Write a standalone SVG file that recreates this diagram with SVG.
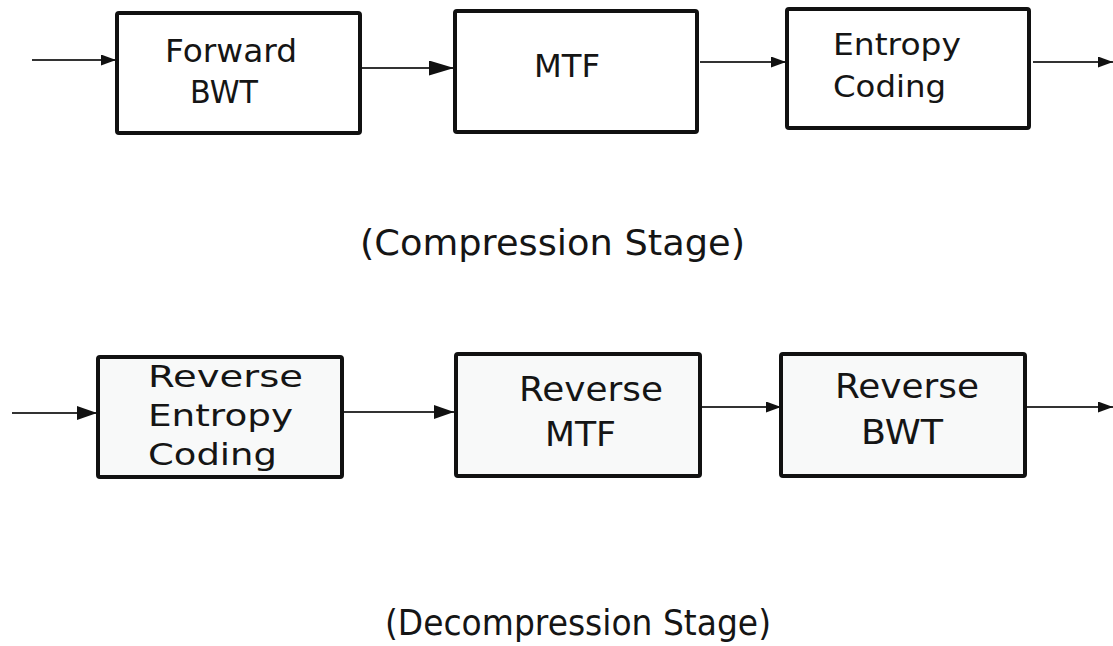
<svg xmlns="http://www.w3.org/2000/svg" width="1113" height="646" viewBox="0 0 1113 646">
<defs>
<style>
.box{stroke:#111;stroke-width:4;}
.top{fill:#ffffff;}
.bot{fill:#f8f9f9;}
.lbl{font-family:"DejaVu Sans",Verdana,sans-serif;fill:#151515;}
.con{stroke:#333;stroke-width:2;fill:none;}
</style>
<marker id="sm" markerUnits="userSpaceOnUse" markerWidth="15" markerHeight="11" refX="15" refY="5.5" orient="auto"><path d="M0,0 L15,5.5 L0,11 Z" fill="#111"/></marker>
<marker id="lg" markerUnits="userSpaceOnUse" markerWidth="25" markerHeight="15" refX="25" refY="7.5" orient="auto"><path d="M0,0 L25,7.5 L0,15 Z" fill="#111"/></marker>
<marker id="md" markerUnits="userSpaceOnUse" markerWidth="20" markerHeight="14" refX="20" refY="7" orient="auto"><path d="M0,0 L20,7 L0,14 Z" fill="#111"/></marker>
</defs>
<rect width="1113" height="646" fill="#ffffff"/>
<g id="connectors">
<path class="con" d="M32,60 H116" marker-end="url(#sm)"/>
<path class="con" d="M361,68 H454" marker-end="url(#lg)"/>
<path class="con" d="M700,62 H786" marker-end="url(#sm)"/>
<path class="con" d="M1033,62 H1113" marker-end="url(#sm)"/>
<path class="con" d="M12,413 H97" marker-end="url(#md)"/>
<path class="con" d="M343,412 H454" marker-end="url(#md)"/>
<path class="con" d="M702,407 H781" marker-end="url(#sm)"/>
<path class="con" d="M1027,407 H1113" marker-end="url(#sm)"/>
</g>
<g id="forward-bwt">
<rect class="box top" x="117" y="13" width="243" height="120" rx="2"/>
<text class="lbl" x="231" y="62" font-size="32" text-anchor="middle" textLength="132" lengthAdjust="spacingAndGlyphs">Forward</text>
<text class="lbl" x="224" y="103" font-size="32" text-anchor="middle" textLength="68" lengthAdjust="spacingAndGlyphs">BWT</text>
</g>
<g id="mtf">
<rect class="box top" x="455" y="11" width="242" height="121" rx="2"/>
<text class="lbl" x="567" y="77" font-size="32" text-anchor="middle" textLength="66" lengthAdjust="spacingAndGlyphs">MTF</text>
</g>
<g id="entropy-coding">
<rect class="box top" x="787" y="9" width="242" height="119" rx="2"/>
<text class="lbl" x="833" y="55" font-size="31" textLength="128" lengthAdjust="spacingAndGlyphs">Entropy</text>
<text class="lbl" x="833" y="97" font-size="31" textLength="113" lengthAdjust="spacingAndGlyphs">Coding</text>
</g>
<g id="compression-label">
<text class="lbl" x="360" y="255" font-size="36" textLength="385" lengthAdjust="spacingAndGlyphs">(Compression Stage)</text>
</g>
<g id="reverse-entropy-coding">
<rect class="box bot" x="98" y="357" width="244" height="120" rx="2"/>
<text class="lbl" x="148" y="387" font-size="31" textLength="155" lengthAdjust="spacingAndGlyphs">Reverse</text>
<text class="lbl" x="148" y="426" font-size="31" textLength="145" lengthAdjust="spacingAndGlyphs">Entropy</text>
<text class="lbl" x="148" y="465" font-size="31" textLength="129" lengthAdjust="spacingAndGlyphs">Coding</text>
</g>
<g id="reverse-mtf">
<rect class="box bot" x="456" y="354" width="244" height="122" rx="2"/>
<text class="lbl" x="519" y="401" font-size="34" textLength="144" lengthAdjust="spacingAndGlyphs">Reverse</text>
<text class="lbl" x="545" y="446" font-size="34" textLength="71" lengthAdjust="spacingAndGlyphs">MTF</text>
</g>
<g id="reverse-bwt">
<rect class="box bot" x="781" y="354" width="244" height="122" rx="2"/>
<text class="lbl" x="835" y="398" font-size="34" textLength="144" lengthAdjust="spacingAndGlyphs">Reverse</text>
<text class="lbl" x="861" y="444" font-size="34" textLength="82" lengthAdjust="spacingAndGlyphs">BWT</text>
</g>
<g id="decompression-label">
<text class="lbl" x="385" y="635" font-size="35" textLength="386" lengthAdjust="spacingAndGlyphs">(Decompression Stage)</text>
</g>
</svg>
